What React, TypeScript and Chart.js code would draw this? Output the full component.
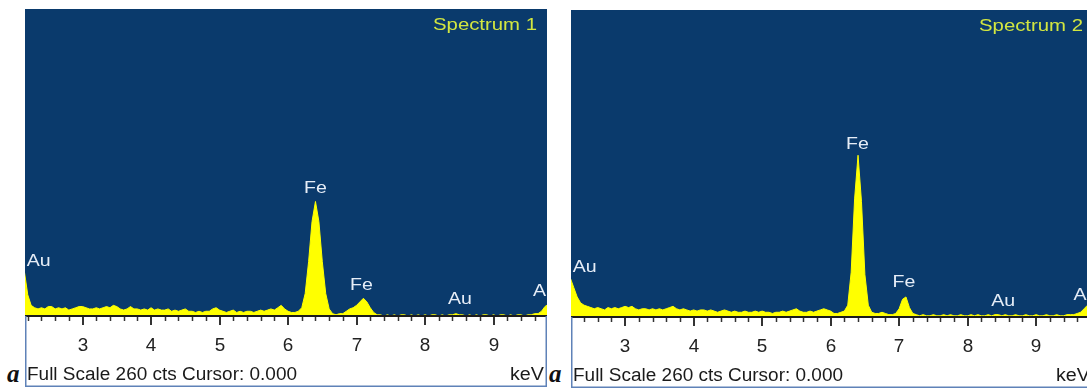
import React, { useEffect, useRef } from "react";
import { Chart, registerables } from "chart.js";

Chart.register(...registerables);

// Channel energies (keV)
const energies = [
  2.15, 2.2, 2.25, 2.3, 2.35, 2.4, 2.45, 2.5, 2.55, 2.6, 2.65, 2.7, 2.75, 2.8, 2.85, 2.9, 2.95,
  3.0, 3.05, 3.1, 3.15, 3.2, 3.25, 3.3, 3.35, 3.4, 3.45, 3.5, 3.55, 3.6, 3.65, 3.7, 3.75, 3.8, 3.85, 3.9, 3.95,
  4.0, 4.05, 4.1, 4.15, 4.2, 4.25, 4.3, 4.35, 4.4, 4.45, 4.5, 4.55, 4.6, 4.65, 4.7, 4.75, 4.8, 4.85, 4.9, 4.95,
  5.0, 5.05, 5.1, 5.15, 5.2, 5.25, 5.3, 5.35, 5.4, 5.45, 5.5, 5.55, 5.6, 5.65, 5.7, 5.75, 5.8, 5.85, 5.9, 5.95,
  6.0, 6.05, 6.1, 6.15, 6.2, 6.25, 6.3, 6.35, 6.4, 6.45, 6.5, 6.55, 6.6, 6.65, 6.7, 6.75, 6.8, 6.85, 6.9, 6.95,
  7.0, 7.05, 7.1, 7.15, 7.2, 7.25, 7.3, 7.35, 7.4, 7.45, 7.5, 7.55, 7.6, 7.65, 7.7, 7.75, 7.8, 7.85, 7.9, 7.95,
  8.0, 8.05, 8.1, 8.15, 8.2, 8.25, 8.3, 8.35, 8.4, 8.45, 8.5, 8.55, 8.6, 8.65, 8.7, 8.75, 8.8, 8.85, 8.9, 8.95,
  9.0, 9.05, 9.1, 9.15, 9.2, 9.25, 9.3, 9.35, 9.4, 9.45, 9.5, 9.55, 9.6, 9.65, 9.7, 9.75, 9.8,
];

// Spectrum 1 counts
const spectrum1 = [
  38, 18, 9, 7, 6, 7, 6, 8, 8, 6, 7, 6, 7, 5, 6, 7, 8,
  8, 7, 6, 6, 7, 6, 7, 8, 7, 9, 8, 6, 5, 6, 8, 6, 6, 5, 6, 5,
  7, 5, 6, 5, 5, 6, 4, 5, 4, 5, 6, 4, 4, 3, 4, 3, 4, 4, 6, 7,
  5, 4, 3, 4, 5, 3, 4, 3, 4, 4, 3, 4, 5, 4, 5, 6, 5, 7, 9, 6,
  4, 3, 3, 4, 7, 19, 46, 80, 97, 80, 46, 19, 6, 2, 1, 2, 2, 4, 6, 7,
  9, 12, 15, 12, 7, 3, 1, 1, 0, 1, 0, 1, 0, 1, 1, 0, 1, 0, 1, 0,
  1, 0, 1, 1, 0, 1, 0, 1, 1, 2, 1, 1, 0, 1, 0, 1, 0, 1, 1, 0,
  1, 0, 1, 1, 0, 1, 0, 1, 1, 0, 1, 1, 2, 2, 4, 8, 10,
];

// Spectrum 2 counts
const spectrum2 = [
  34, 33, 25, 17, 12, 10, 9, 8, 7, 8, 7, 6, 8, 7, 8, 7, 8,
  9, 8, 9, 7, 6, 7, 7, 6, 7, 6, 7, 6, 7, 8, 9, 7, 6, 7, 6, 5,
  6, 5, 6, 6, 5, 6, 5, 4, 5, 6, 5, 4, 5, 4, 4, 5, 4, 4, 5, 4,
  5, 4, 4, 3, 4, 4, 5, 4, 5, 6, 7, 5, 4, 4, 5, 4, 5, 6, 7, 6,
  5, 3, 3, 4, 5, 10, 38, 100, 137, 98, 36, 10, 4, 3, 3, 4, 3, 2, 2, 3,
  7, 15, 17, 8, 3, 2, 1, 2, 1, 1, 2, 1, 1, 2, 1, 2, 1, 1, 2, 1,
  1, 2, 1, 2, 1, 1, 2, 1, 2, 2, 1, 2, 1, 1, 2, 1, 1, 2, 1, 1,
  2, 1, 1, 2, 1, 1, 2, 1, 1, 2, 2, 2, 3, 4, 7, 10, 10,
];

const tickValues = [3, 4, 5, 6, 7, 8, 9];
const tickLabels = ["3", "4", "5", "6", "7", "8", "9"];

const peakNames = ["Au", "Fe", "Fe", "Au", "Au"];
const peakKeV1 = [2.36, 6.4, 7.07, 8.51, 9.75];
const peakCts1 = [46, 108, 26, 14, 21];
const peakKeV2 = [2.41, 6.39, 7.07, 8.52, 9.72];
const peakCts2 = [42, 146, 29, 13, 18];

const titles = ["Spectrum 1", "Spectrum 2"];
const footerText = "Full Scale 260 cts Cursor: 0.000";
const unitText = "keV";
const fullScale = 260;
const xRange1 = [2.16, 9.78];
const xRange2 = [2.21, 9.83];

const BLUE = "#0a3a6c";
const YELLOW = "#ffff00";
const SANS = '"Liberation Sans", Arial, sans-serif';

function drawScaledText(
  ctx: CanvasRenderingContext2D,
  text: string,
  x: number,
  y: number,
  sx: number,
  align: CanvasTextAlign
) {
  ctx.save();
  ctx.translate(x, y);
  ctx.scale(sx, 1);
  ctx.textAlign = align;
  ctx.textBaseline = "middle";
  ctx.fillText(text, 0, 0);
  ctx.restore();
}

function makeDecor(title: string, names: string[], kev: number[], cts: number[]) {
  return {
    id: "edsDecor",
    beforeDraw(chart: any) {
      const { ctx, chartArea: a, width, height } = chart;
      ctx.save();
      ctx.fillStyle = "#ffffff";
      ctx.fillRect(0, 0, width, height);
      ctx.fillStyle = BLUE;
      ctx.fillRect(a.left, a.top, a.right - a.left, a.bottom - a.top);
      ctx.restore();
    },
    afterDatasetsDraw(chart: any) {
      const { ctx, chartArea: a, width, height } = chart;
      const xs = chart.scales.x;
      const ys = chart.scales.y;
      ctx.save();

      // axis line
      ctx.fillStyle = "#1c1c1c";
      ctx.fillRect(a.left, a.bottom - 1, a.right - a.left, 2);

      // minor ticks every 0.2 keV
      ctx.strokeStyle = "#333333";
      ctx.lineWidth = 1.5;
      const k0 = Math.ceil(xs.min * 5);
      const k1 = Math.floor(xs.max * 5);
      for (let k = k0; k <= k1; k++) {
        if (k % 5 === 0) continue;
        const px = Math.round(xs.getPixelForValue(k / 5)) + 0.5;
        ctx.beginPath();
        ctx.moveTo(px, a.bottom + 1);
        ctx.lineTo(px, a.bottom + 5);
        ctx.stroke();
      }
      // major ticks and labels
      ctx.lineWidth = 2;
      ctx.fillStyle = "#222222";
      ctx.font = `18px ${SANS}`;
      tickValues.forEach((v, i) => {
        const px = Math.round(xs.getPixelForValue(v));
        ctx.beginPath();
        ctx.moveTo(px, a.bottom + 1);
        ctx.lineTo(px, a.bottom + 9);
        ctx.stroke();
        drawScaledText(ctx, tickLabels[i], px, a.bottom + 30, 1.05, "center");
      });

      // footer text
      ctx.fillStyle = "#1a1a1a";
      ctx.font = `18px ${SANS}`;
      const fw = ctx.measureText(footerText).width;
      drawScaledText(ctx, footerText, 2, a.bottom + 59, 270 / fw, "left");
      const uw = ctx.measureText(unitText).width;
      drawScaledText(ctx, unitText, width - 3, a.bottom + 59, 34 / uw, "right");

      // borders of the white strip
      ctx.strokeStyle = "#5f82b8";
      ctx.lineWidth = 1.5;
      ctx.beginPath();
      ctx.moveTo(0.75, a.bottom);
      ctx.lineTo(0.75, height - 0.75);
      ctx.lineTo(width - 0.75, height - 0.75);
      ctx.lineTo(width - 0.75, a.bottom);
      ctx.stroke();

      // clip for in-plot texts
      ctx.beginPath();
      ctx.rect(a.left, a.top, a.right - a.left, a.bottom - a.top);
      ctx.clip();

      // title
      ctx.fillStyle = "#d2e640";
      ctx.font = `17px ${SANS}`;
      const tw = ctx.measureText(title).width;
      drawScaledText(ctx, title, a.right - 10, a.top + 16, 104 / tw, "right");

      // peak labels
      ctx.fillStyle = "#e6edf7";
      ctx.font = `17px ${SANS}`;
      names.forEach((n, i) => {
        const px = xs.getPixelForValue(kev[i]);
        const py = ys.getPixelForValue(cts[i]);
        drawScaledText(ctx, n, px, py, 1.15, "center");
      });

      ctx.restore();
    },
  };
}

type PanelProps = {
  values: number[];
  range: number[];
  title: string;
  kev: number[];
  cts: number[];
  left: number;
  top: number;
};

function Panel({ values, range, title, kev, cts, left, top }: PanelProps) {
  const ref = useRef<HTMLCanvasElement | null>(null);
  useEffect(() => {
    if (!ref.current) return;
    const chart = new Chart(ref.current, {
      type: "line",
      data: {
        datasets: [
          {
            data: energies.map((e, i) => ({ x: e, y: values[i] })),
            fill: "origin",
            backgroundColor: YELLOW,
            borderColor: YELLOW,
            borderWidth: 1,
            pointRadius: 0,
            tension: 0,
          },
        ],
      },
      options: {
        animation: false,
        responsive: false,
        maintainAspectRatio: false,
        events: [],
        layout: { padding: { left: 0, right: 0, top: 0, bottom: 71 } },
        plugins: { legend: { display: false }, tooltip: { enabled: false } },
        scales: {
          x: { type: "linear", min: range[0], max: range[1], display: false },
          y: { type: "linear", min: 0, max: fullScale, display: false },
        },
      },
      plugins: [makeDecor(title, peakNames, kev, cts)],
    } as any);
    return () => chart.destroy();
  }, []);
  return (
    <div style={{ position: "absolute", left, top, width: 522, height: 378 }}>
      <canvas ref={ref} width={522} height={378} style={{ display: "block" }} />
    </div>
  );
}

const letterStyle: React.CSSProperties = {
  position: "absolute",
  top: 361,
  fontFamily: '"Liberation Serif", "Times New Roman", serif',
  fontStyle: "italic",
  fontWeight: "bold",
  fontSize: 25,
  lineHeight: "25px",
  color: "#111",
};

export default function App() {
  return (
    <div
      style={{
        position: "absolute",
        left: 0,
        top: 0,
        width: 1087,
        height: 389,
        overflow: "hidden",
        background: "#ffffff",
      }}
    >
      <Panel values={spectrum1} range={xRange1} title={titles[0]} kev={peakKeV1} cts={peakCts1} left={25} top={9} />
      <Panel values={spectrum2} range={xRange2} title={titles[1]} kev={peakKeV2} cts={peakCts2} left={571} top={10} />
      <span style={{ ...letterStyle, left: 7 }}>a</span>
      <span style={{ ...letterStyle, left: 549 }}>a</span>
    </div>
  );
}
